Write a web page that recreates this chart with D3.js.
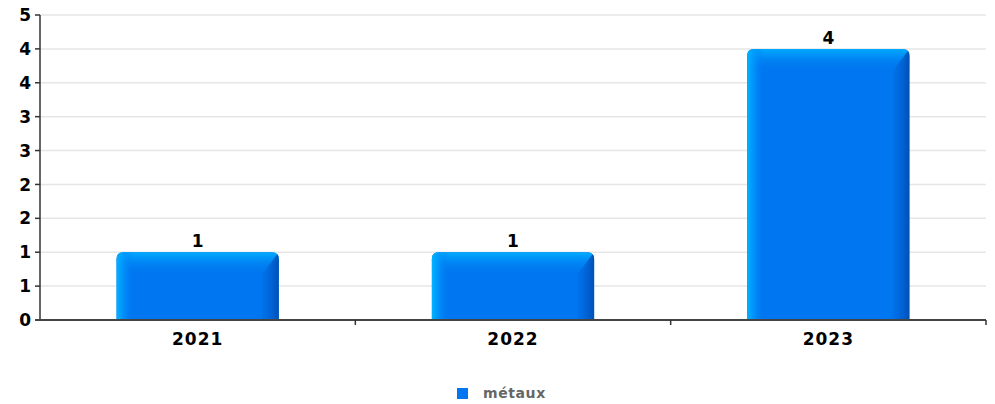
<!DOCTYPE html>
<html><head><meta charset="utf-8">
<script src="https://cdn.jsdelivr.net/npm/d3@7"></script>
<style>body{margin:0;background:#fff}svg{display:block}text{font-family:"DejaVu Sans",sans-serif}</style>
</head><body><svg id="c" width="995" height="404"></svg>
<script>
const categories = ["2021","2022","2023"];
const seriesName = "métaux";
const values = [1,1,4];
const yTicks = [0,0.5,1,1.5,2,2.5,3,3.5,4,4.5];
const yTickLabels = ["0","1","1","2","2","3","3","4","4","5"];

const svg = d3.select("#c");
const m = {l:40, r:9, t:15, b:84};
const W = 995, H = 404;
const x = d3.scaleBand().domain(categories).range([m.l, W-m.r]).paddingInner(0).paddingOuter(0);
const y = d3.scaleLinear().domain([0,4.5]).range([H-m.b, m.t]);

const defs = svg.append("defs");
const gl = defs.append("linearGradient").attr("id","gLeft").attr("x1",0).attr("x2",1).attr("y1",0).attr("y2",0);
gl.append("stop").attr("offset",0).attr("stop-color","#00b4ff");
gl.append("stop").attr("offset",0.4).attr("stop-color","#009cff").attr("stop-opacity",0.7);
gl.append("stop").attr("offset",1).attr("stop-color","#0077f0").attr("stop-opacity",0);
const gt = defs.append("linearGradient").attr("id","gTop").attr("x1",0).attr("x2",0).attr("y1",0).attr("y2",1);
gt.append("stop").attr("offset",0).attr("stop-color","#00acff");
gt.append("stop").attr("offset",1).attr("stop-color","#0077f0").attr("stop-opacity",0);
const gr = defs.append("linearGradient").attr("id","gRight").attr("x1",0).attr("x2",1).attr("y1",0).attr("y2",0);
gr.append("stop").attr("offset",0).attr("stop-color","#0066dd").attr("stop-opacity",0.3);
gr.append("stop").attr("offset",1).attr("stop-color","#004fb5");

// grid
svg.append("g").selectAll("line").data(yTicks.slice(1)).join("line")
  .attr("x1",m.l).attr("x2",W-m.r).attr("y1",d=>y(d)).attr("y2",d=>y(d))
  .attr("stroke","#e6e6e6").attr("stroke-width",1.5);

// bars
const bw = x.bandwidth()*0.515;
const r = 7, side = 17, topH = 22;
const bars = svg.append("g").selectAll("g").data(categories.map((c,i)=>({c,v:values[i]}))).join("g");
bars.each(function(d,i){
  const g = d3.select(this);
  const x0 = x(d.c)+ (x.bandwidth()-bw)/2, x1 = x0+bw, y0 = y(d.v), y1 = y(0);
  const p = d3.path();
  p.moveTo(x0,y1); p.lineTo(x0,y0+r); p.quadraticCurveTo(x0,y0,x0+r,y0);
  p.lineTo(x1-r,y0); p.quadraticCurveTo(x1,y0,x1,y0+r); p.lineTo(x1,y1); p.closePath();
  const id = "clip"+i;
  defs.append("clipPath").attr("id",id).append("path").attr("d",p.toString());
  g.append("path").attr("d",p.toString()).attr("fill","#0077f0");
  const cg = g.append("g").attr("clip-path",`url(#${id})`);
  cg.append("rect").attr("x",x0).attr("y",y0).attr("width",bw).attr("height",topH).attr("fill","url(#gTop)");
  cg.append("rect").attr("x",x0).attr("y",y0).attr("width",side).attr("height",y1-y0).attr("fill","url(#gLeft)");
  cg.append("path").attr("d",`M${x1-side},${y0+topH} L${x1},${y0} L${x1},${y1} L${x1-side},${y1}Z`).attr("fill","url(#gRight)");
  g.append("text").attr("x",(x0+x1)/2).attr("y",y0-5).attr("text-anchor","middle")
    .attr("font-size",17).attr("font-weight","bold").attr("fill","#000").text(d.v);
});

// y axis
svg.append("line").attr("x1",m.l).attr("x2",m.l).attr("y1",m.t).attr("y2",y(0)).attr("stroke","#333").attr("stroke-width",1.5);
const yt = svg.append("g").selectAll("g").data(yTicks).join("g");
yt.append("line").attr("x1",m.l-5).attr("x2",m.l).attr("y1",d=>y(d)).attr("y2",d=>y(d)).attr("stroke","#333").attr("stroke-width",1.5);
yt.append("text").attr("x",m.l-9).attr("y",d=>y(d)).attr("dy","0.36em").attr("text-anchor","end")
  .attr("font-size",17).attr("font-weight","bold").attr("fill","#000").text((d,i)=>yTickLabels[i]);

// x axis
svg.append("line").attr("x1",m.l-5).attr("x2",W-m.r).attr("y1",y(0)).attr("y2",y(0)).attr("stroke","#444").attr("stroke-width",2);
const bounds = categories.map(c=>x(c)+x.bandwidth());
svg.append("g").selectAll("line").data(bounds).join("line")
  .attr("x1",d=>d).attr("x2",d=>d).attr("y1",y(0)).attr("y2",y(0)+5).attr("stroke","#333").attr("stroke-width",1.5);
svg.append("g").selectAll("text").data(categories).join("text")
  .attr("x",d=>x(d)+x.bandwidth()/2).attr("y",y(0)+25).attr("text-anchor","middle")
  .attr("font-size",17).attr("font-weight","bold").attr("fill","#000").attr("letter-spacing",1).text(d=>d);

// legend
svg.append("rect").attr("x",457).attr("y",388).attr("width",11).attr("height",11).attr("fill","#0077f0");
svg.append("text").attr("x",483).attr("y",398).attr("font-size",14).attr("font-weight","bold").attr("fill","#666").attr("letter-spacing",0.6).text(seriesName);
</script></body></html>
